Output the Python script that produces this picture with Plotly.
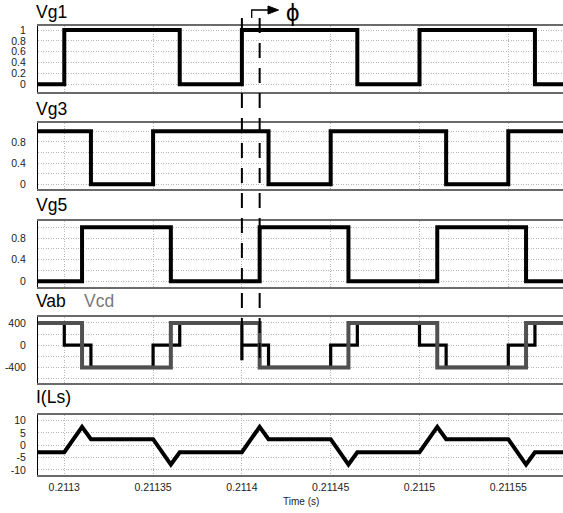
import plotly.graph_objects as go

W, H = 563, 513

# ---------------- data ----------------
t_start, t_end = 0.2112852, 0.2115808

vg1_t = [t_start, 0.2113, 0.211365, 0.2114, 0.211465, 0.2115, 0.211565, t_end]
vg1_v = [0, 1, 0, 1, 0, 1, 0, 0]

vg3_t = [t_start, 0.211315, 0.21135, 0.211415, 0.21145, 0.211515, 0.21155, t_end]
vg3_v = [1, 0, 1, 0, 1, 0, 1, 1]

vg5_t = [t_start, 0.21131, 0.21136, 0.21141, 0.21146, 0.21151, 0.21156, t_end]
vg5_v = [0, 1, 0, 1, 0, 1, 0, 0]

vab_t = [t_start, 0.2113, 0.211315, 0.21135, 0.211365, 0.2114, 0.2114, 0.2114,
         0.211415, 0.21145, 0.211465, 0.2115, 0.211515, 0.21155, 0.211565, t_end]
vab_v = [400, 0, -400, 0, 400, 400, -270, 0,
         -400, 0, 400, 0, -400, 0, 400, 400]

vcd_t = [t_start, 0.21131, 0.21136, 0.21141, 0.21146, 0.21151, 0.21156, t_end]
vcd_v = [400, -400, 400, -400, 400, -400, 400, 400]

ils_t = [t_start, 0.2113, 0.21131, 0.211315, 0.21135, 0.21136, 0.211365,
         0.2114, 0.21141, 0.211415, 0.21145, 0.21146, 0.211465,
         0.2115, 0.21151, 0.211515, 0.21155, 0.21156, 0.211565, t_end]
ils_v = [-2.8, -2.8, 7.5, 2.5, 2.5, -7.8, -2.8,
         -2.8, 7.5, 2.5, 2.5, -7.8, -2.8,
         -2.8, 7.5, 2.5, 2.5, -7.8, -2.8, -2.8]

x_ticks = [0.2113, 0.21135, 0.2114, 0.21145, 0.2115, 0.21155]
x_ticktext = ["0.2113", "0.21135", "0.2114", "0.21145", "0.2115", "0.21155"]

phase_lines = [0.2114, 0.21141]

titles = ["Vg1", "Vg3", "Vg5", "Vab", "I(Ls)"]

# ---------------- layout helpers ----------------
def py(p):
    return 1 - p / H

def pxx(p):
    return p / W

FONT = "Arial, Liberation Sans, sans-serif"
GRID = "#b8b8b8"
GDASH = "1px,1.5px"

panels = [  # (top px, bottom px, yrange, tickvals, ticktext, minor dtick)
    (26, 92, [-0.142, 1.074], [0, 0.2, 0.4, 0.6, 0.8, 1], ["0", "0.2", "0.4", "0.6", "0.8", "1"], None),
    (123, 189, [-0.088, 1.157], [0, 0.4, 0.8], ["0", "0.4", "0.8"], 0.2),
    (221, 287, [-0.105, 1.115], [0, 0.4, 0.8], ["0", "0.4", "0.8"], 0.2),
    (317, 383, [-681, 508], [-400, 0, 400], ["-400", "0", "400"], 200),
    (415, 475, [-12.05, 12.3], [-10, -5, 0, 5, 10], ["-10", "-5", "0", "5", "10"], None),
]

fig = go.Figure()

series = [
    [(vg1_t, vg1_v, "hv", "#000000", 4)],
    [(vg3_t, vg3_v, "hv", "#000000", 4)],
    [(vg5_t, vg5_v, "hv", "#000000", 4)],
    [(vab_t, vab_v, "hv", "#000000", 3.2), (vcd_t, vcd_v, "hv", "#505050", 4)],
    [(ils_t, ils_v, "linear", "#000000", 4)],
]

for i, group in enumerate(series):
    n = "" if i == 0 else str(i + 1)
    for (t, v, shape, col, w) in group:
        fig.add_trace(go.Scatter(x=t, y=v, mode="lines", line=dict(color=col, width=w, shape=shape),
                                 xaxis="x" + n, yaxis="y" + n, hoverinfo="skip", showlegend=False))

layout = {}
for i, (top, bot, yr, tv, tt, minor) in enumerate(panels):
    n = "" if i == 0 else str(i + 1)
    last = i == len(panels) - 1
    layout["xaxis" + n] = dict(
        domain=[pxx(38), 1], range=[t_start, t_end], anchor="y" + n,
        tickvals=x_ticks, ticktext=x_ticktext, showticklabels=last, ticks="",
        showgrid=True, gridcolor=GRID, griddash=GDASH, gridwidth=1,
        showline=True, linecolor="#6a6a6a", linewidth=2, mirror=True,
        zeroline=False, automargin=False, ticklabelstandoff=1,
        tickfont=dict(family=FONT, size=10.5, color="#222222"),
    )
    ydict = dict(
        domain=[py(bot), py(top)], range=yr, anchor="x" + n,
        tickvals=tv, ticktext=tt, ticks="",
        showgrid=True, gridcolor=GRID, griddash=GDASH, gridwidth=1,
        showline=True, linecolor="#000000", linewidth=1, mirror=False,
        zeroline=False, automargin=False, ticklabelstandoff=9,
        tickfont=dict(family=FONT, size=10.5, color="#222222"),
    )
    if minor:
        ydict["minor"] = dict(dtick=minor, tick0=0, showgrid=True, gridcolor=GRID, griddash=GDASH, ticks="")
    layout["yaxis" + n] = ydict

annotations = []
title_y = [12.2, 109, 204.5, 301, 397]
for i, tx in enumerate(titles):
    annotations.append(dict(text=tx, x=pxx(34), y=py(title_y[i]), xref="paper", yref="paper",
                            xanchor="left", yanchor="middle", showarrow=False,
                            font=dict(family=FONT, size=17.5, color="#000000")))
annotations.append(dict(text="Vcd", x=pxx(81.5), y=py(301), xref="paper", yref="paper",
                        xanchor="left", yanchor="middle", showarrow=False,
                        font=dict(family=FONT, size=17.5, color="#7a7a7a")))
annotations.append(dict(text="Time (s)", x=pxx(301), y=py(501), xref="paper", yref="paper",
                        xanchor="center", yanchor="middle", showarrow=False,
                        font=dict(family=FONT, size=10, color="#222222")))
annotations.append(dict(text="ϕ", x=pxx(292), y=py(12.5), xref="paper", yref="paper",
                        xanchor="center", yanchor="middle", showarrow=False,
                        font=dict(family=FONT, size=24, color="#000000")))

shapes = []
for xv in phase_lines:
    shapes.append(dict(type="line", xref="x", yref="paper", x0=xv, x1=xv, y0=py(18), y1=py(366),
                       line=dict(color="#000000", width=2, dash="15px,10px")))
# phase arrow
shapes.append(dict(type="path", xref="paper", yref="paper",
                   path=f"M {pxx(251.7)},{py(18)} L {pxx(251.7)},{py(10)} L {pxx(269)},{py(10)}",
                   line=dict(color="#000000", width=1.3)))
shapes.append(dict(type="path", xref="paper", yref="paper",
                   path=f"M {pxx(268)},{py(6)} L {pxx(278.5)},{py(10)} L {pxx(268)},{py(14)} Z",
                   fillcolor="#000000", line=dict(color="#000000", width=1)))

fig.update_layout(
    width=W, height=H, margin=dict(l=0, r=0, t=0, b=0),
    template="none", paper_bgcolor="white", plot_bgcolor="white",
    annotations=annotations, shapes=shapes, showlegend=False,
    **layout,
)

fig.write_html("out.html")
